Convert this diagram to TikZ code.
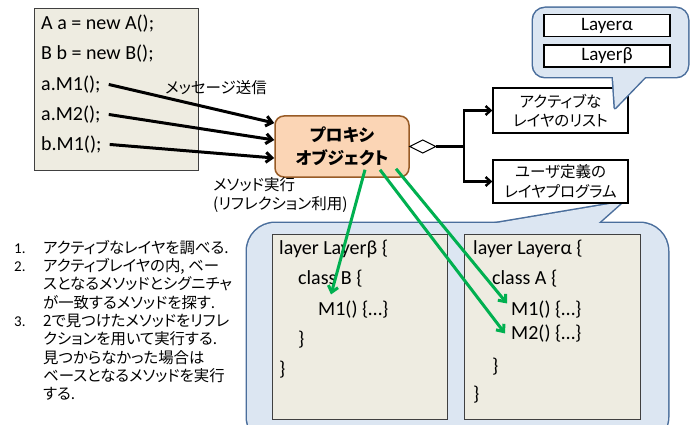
\documentclass[tikz,border=0pt]{standalone}
\usepackage{fontspec}
\setmainfont{Carlito}
\newfontfamily\jp{Noto Sans CJK JP}[RawFeature=+palt]
\usetikzlibrary{arrows.meta,calc}
\definecolor{codebg}{HTML}{EEECE1}
\definecolor{callfill}{HTML}{DCE6F2}
\definecolor{callline}{HTML}{4A6E9C}
\definecolor{proxyfill}{HTML}{FBD5B5}
\definecolor{proxyline}{HTML}{985B26}
\definecolor{grn}{HTML}{00B050}
\begin{document}
\begin{tikzpicture}[x=1pt,y=-1pt,
  codebox/.style={draw=black!75, fill=codebg, line width=0.9pt, inner sep=0pt},
  code/.style={anchor=mid west, inner sep=0pt, font=\fontsize{20}{24}\selectfont},
  jptxt/.style={anchor=mid west, inner sep=0pt, font=\jp\fontsize{15.5}{17}\selectfont},
  listtxt/.style={anchor=mid west, inner sep=0pt, font=\jp\fontsize{15.4}{17}\selectfont},
  listnum/.style={anchor=mid west, inner sep=0pt, font=\fontsize{15}{17}\selectfont},
  msgarrow/.style={line width=3pt, -{Straight Barb[length=6pt,width=10pt]}},
  grnarrow/.style={draw=grn, line width=3pt, -{Straight Barb[length=6pt,width=10pt]}},
  treearrow/.style={line width=2.4pt, -{Straight Barb[length=5pt,width=9pt]}},
  infobox/.style={draw, line width=1.3pt, fill=white, minimum width=135pt, align=center, font=\jp\fontsize{15.5}{19.5}\selectfont, inner sep=0pt},
  layerbox/.style={draw, line width=1.3pt, fill=white, minimum width=126pt, minimum height=22pt, inner sep=0pt, font=\fontsize{19}{20}\selectfont},
  callstroke/.style={draw=callline, line width=3pt, line join=round},
]
\clip (0,0) rectangle (690,425);
\fill[white] (0,0) rectangle (690,425);

% ---- bottom callout ----
\path[callstroke, rounded corners=28pt] (247,223) rectangle (668,445);
\path[callstroke] (467.4,228) -- (622,202) -- (592.8,228) -- cycle;
\fill[callfill, rounded corners=28pt] (247,223) rectangle (668,445);
\fill[callfill] (467.4,228) -- (622,202) -- (592.8,228) -- cycle;

% ---- top code box ----
\node[codebox, minimum width=164pt, minimum height=162pt] (codeA) at (116,89) {};
\node[code] (c1) at (41,27) {A a = new A();};
\node[code] (c2) at (41,57) {B b = new B();};
\node[code] (c3) at (41,88) {a.M1();};
\node[code] (c4) at (41,118) {a.M2();};
\node[code] (c5) at (41,148) {b.M1();};

% ---- layer code boxes ----
\node[codebox, minimum width=175pt, minimum height=185pt] (lbox) at (359.5,326.5) {};
\node[codebox, minimum width=176pt, minimum height=185pt] (rbox) at (552,326.5) {};
\node[code] (lb1) at (279,252) {layer Layerβ \{};
\node[code] (lb2) at (298,282) {class B \{};
\node[code] (lb3) at (318,313) {M1() \{\ldots\}};
\node[code] (lb4) at (298,343) {\}};
\node[code] (lb5) at (279,373) {\}};
\node[code] (ra1) at (473,252) {layer Layerα \{};
\node[code] (ra2) at (492,282) {class A \{};
\node[code] (ra3) at (511,313) {M1() \{\ldots\}};
\node[code] (ra4) at (511,337) {M2() \{\ldots\}};
\node[code] (ra5) at (492,370) {\}};
\node[code] (ra6) at (473,398) {\}};

% ---- proxy ----
\node[draw=proxyline, fill=proxyfill, line width=1.5pt, rounded corners=9pt,
      minimum width=134pt, minimum height=61pt, inner sep=0pt, align=center,
      font=\jp\bfseries\fontsize{17}{23}\selectfont] (proxy) at (342,146.5) {プロキシ\\オブジェクト};

% ---- right boxes ----
\node[infobox, minimum height=45pt] (alist) at (560.5,110.5) {アクティブな\\レイヤのリスト};
\node[infobox, minimum height=43pt] (uprog) at (560.5,181.5) {ユーザ定義の\\レイヤプログラム};

% ---- top callout ----
\path[callstroke, rounded corners=12pt] (533,8) rectangle (688,77);
\path[callstroke] (612.8,74) -- (615,108) -- (647.9,74) -- cycle;
\fill[callfill, rounded corners=12pt] (533,8) rectangle (688,77);
\fill[callfill] (612.8,74) -- (615,108) -- (647.9,74) -- cycle;
\node[layerbox] (la) at (607,25.5) {Layerα};
\node[layerbox] (lbeta) at (607,56) {Layerβ};

% ---- labels ----
\node[jptxt] (sendlbl) at (165,91) {メッセージ送信};
\node[jptxt] (exec1) at (213,188) {メソッド実行};
\node[jptxt] (exec2) at (213,207) {(リフレクション利用)};

% ---- message arrows ----
\draw[msgarrow] ([xshift=8pt]c3.east) -- ($(proxy.west)+(0,-23.5)$);
\draw[msgarrow] ([xshift=8pt]c4.east) -- ($(proxy.west)+(0,-6.5)$);
\draw[msgarrow] ([xshift=8pt]c5.east) -- ($(proxy.west)+(0,11.5)$);

% ---- aggregation tree ----
\coordinate (dE) at ($(proxy.east)+(26,0)$);
\coordinate (br) at ($(dE)+(28,0)$);
\draw[line width=2.4pt] (dE) -- (br);
\draw[treearrow] (br) |- (alist.west);
\draw[treearrow] (br) |- (uprog.west);
\draw[line width=1pt, fill=white] (proxy.east) -- ++(13,-6.5) -- (dE) -- ++(-13,6.5) -- cycle;

% ---- green arrows ----
\draw[grnarrow] ($(proxy.south)+(23,-8)$) -- ($(lb3.west)+(13,-15)$);
\draw[grnarrow] ($(proxy.south)+(38,-8)$) -- ($(ra4.west)+(-6,0)$);
\draw[grnarrow] ($(proxy.south)+(54,-9)$) -- ($(ra3.west)+(-4,-6)$);

% ---- list ----
\node[listnum] (n1) at (14,251) {1.};
\node[listtxt] (t1) at (43,251) {アクティブなレイヤを調べる.};
\node[listnum] (n2) at (14,269.3) {2.};
\node[listtxt] (t2) at (43,269.3) {アクティブレイヤの内, ベー};
\node[listtxt] (t3) at (43,287.6) {スとなるメソッドとシグニチャ};
\node[listtxt] (t4) at (43,305.9) {が一致するメソッドを探す.};
\node[listnum] (n3) at (14,324.2) {3.};
\node[listtxt] (t5) at (43,324.2) {2で見つけたメソッドをリフレ};
\node[listtxt] (t6) at (43,342.5) {クションを用いて実行する.};
\node[listtxt] (t7) at (43,360.8) {見つからなかった場合は};
\node[listtxt] (t8) at (43,379.1) {ベースとなるメソッドを実行};
\node[listtxt] (t9) at (43,397.4) {する.};
\end{tikzpicture}
\end{document}
